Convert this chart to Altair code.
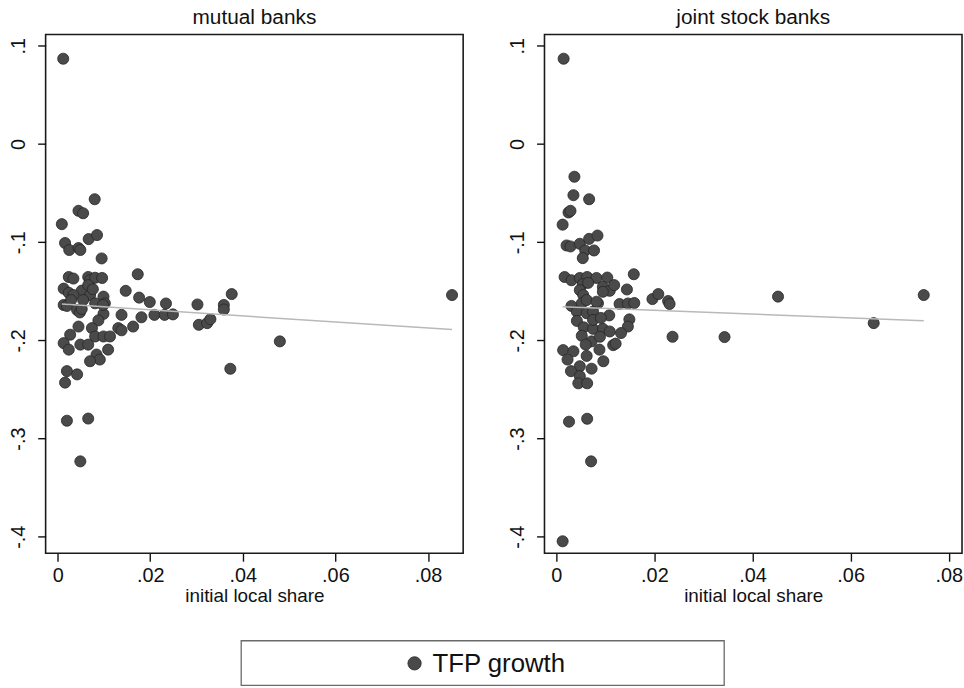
import altair as alt
import pandas as pd

# TFP growth against initial local market share, by bank type
mutual_share = [
    0.0012, 0.0080, 0.0045, 0.0055, 0.0009, 0.0016, 0.0025, 0.0045, 0.0049, 0.0067,
    0.0085, 0.0095, 0.0173, 0.0024, 0.0034, 0.0066, 0.0070, 0.0081, 0.0096, 0.0013,
    0.0024, 0.0052, 0.0066, 0.0070, 0.0099, 0.0147, 0.0176, 0.0199, 0.0234, 0.0302,
    0.0359, 0.0376, 0.0852, 0.0359, 0.0013, 0.0020, 0.0042, 0.0048, 0.0052, 0.0081,
    0.0102, 0.0099, 0.0138, 0.0181, 0.0209, 0.0231, 0.0249, 0.0088, 0.0163, 0.0045,
    0.0027, 0.0013, 0.0024, 0.0074, 0.0081, 0.0099, 0.0113, 0.0131, 0.0138, 0.0049,
    0.0066, 0.0109, 0.0084, 0.0091, 0.0070, 0.0020, 0.0042, 0.0016, 0.0020, 0.0066,
    0.0049, 0.0305, 0.0323, 0.0330, 0.0480, 0.0373, 0.0034, 0.0055, 0.0029, 0.0076,
    0.0098,
]
mutual_tfp = [
    0.0869, -0.0562, -0.0680, -0.0705, -0.0816, -0.1008, -0.1079, -0.1059, -0.1079, -0.0968,
    -0.0927, -0.1165, -0.1326, -0.1354, -0.1370, -0.1354, -0.1387, -0.1362, -0.1364, -0.1473,
    -0.1515, -0.1493, -0.1437, -0.1538, -0.1554, -0.1495, -0.1564, -0.1609, -0.1624, -0.1634,
    -0.1639, -0.1528, -0.1538, -0.1685, -0.1639, -0.1649, -0.1690, -0.1715, -0.1680, -0.1622,
    -0.1622, -0.1730, -0.1740, -0.1764, -0.1740, -0.1740, -0.1735, -0.1796, -0.1859, -0.1859,
    -0.1942, -0.2028, -0.2094, -0.1875, -0.1960, -0.1960, -0.1960, -0.1875, -0.1897, -0.2043,
    -0.2043, -0.2094, -0.2144, -0.2195, -0.2212, -0.2313, -0.2346, -0.2430, -0.2818, -0.2796,
    -0.3232, -0.1841, -0.1824, -0.1784, -0.2010, -0.2289, -0.1538, -0.1589, -0.1589, -0.1478,
    -0.1639,
]
joint_share = [
    0.0015, 0.0037, 0.0035, 0.0067, 0.0025, 0.0029, 0.0013, 0.0021, 0.0029, 0.0048,
    0.0067, 0.0084, 0.0059, 0.0077, 0.0054, 0.0158, 0.0017, 0.0031, 0.0048, 0.0063,
    0.0082, 0.0104, 0.0054, 0.0065, 0.0048, 0.0055, 0.0095, 0.0109, 0.0118, 0.0144,
    0.0196, 0.0208, 0.0228, 0.0231, 0.0452, 0.0749, 0.0647, 0.0237, 0.0343, 0.0031,
    0.0052, 0.0062, 0.0095, 0.0042, 0.0062, 0.0075, 0.0085, 0.0129, 0.0146, 0.0159,
    0.0082, 0.0042, 0.0108, 0.0149, 0.0146, 0.0132, 0.0056, 0.0075, 0.0095, 0.0109,
    0.0052, 0.0072, 0.0089, 0.0116, 0.0121, 0.0060, 0.0062, 0.0014, 0.0035, 0.0023,
    0.0088, 0.0096, 0.0072, 0.0048, 0.0030, 0.0048, 0.0045, 0.0063, 0.0026, 0.0063,
    0.0071, 0.0013, 0.0075, 0.0091,
]
joint_tfp = [
    0.0869, -0.0333, -0.0521, -0.0562, -0.0697, -0.0680, -0.0821, -0.1033, -0.1043, -0.1016,
    -0.0966, -0.0932, -0.1084, -0.1084, -0.1162, -0.1326, -0.1354, -0.1387, -0.1364, -0.1354,
    -0.1364, -0.1360, -0.1427, -0.1414, -0.1488, -0.1538, -0.1455, -0.1495, -0.1437, -0.1481,
    -0.1579, -0.1528, -0.1599, -0.1629, -0.1554, -0.1538, -0.1824, -0.1963, -0.1966, -0.1649,
    -0.1622, -0.1589, -0.1505, -0.1707, -0.1723, -0.1707, -0.1622, -0.1629, -0.1624, -0.1619,
    -0.1606, -0.1801, -0.1745, -0.1786, -0.1859, -0.1925, -0.1867, -0.1882, -0.1882, -0.1909,
    -0.1953, -0.2010, -0.1963, -0.2048, -0.2033, -0.2043, -0.2158, -0.2099, -0.2111, -0.2195,
    -0.2094, -0.2212, -0.2288, -0.2263, -0.2313, -0.2364, -0.2437, -0.2437, -0.2828, -0.2798,
    -0.3232, -0.4046, -0.1791, -0.1771,
]

# Linear fit endpoints for each panel
mutual_fit_share = [0.0009, 0.0852]
mutual_fit_tfp = [-0.1630, -0.1890]
joint_fit_share = [0.0013, 0.0749]
joint_fit_tfp = [-0.1657, -0.1800]

x_ticks = [0, 0.02, 0.04, 0.06, 0.08]
y_ticks = [-0.4, -0.3, -0.2, -0.1, 0, 0.1]
panel_titles = ["mutual banks", "joint stock banks"]
legend_labels = ["TFP growth"]

FONT = "Liberation Sans"
INK = "#111111"
DOT_FILL = "#4a4a4a"
DOT_EDGE = "#262626"
Y_DOMAIN = [-0.4168, 0.1115]

# Stata-style number labels: ".02", "-.1", "0"
LABEL_EXPR = (
    "replace(replace(format(datum.value, '.2~f'), '\u2212', '-'), '0.', '.')"
)


def panel(title, share, tfp, fit_share, fit_tfp, x_domain):
    pts = pd.DataFrame({"share": share, "tfp": tfp})
    fit = pd.DataFrame({"share": fit_share, "tfp": fit_tfp})
    x = alt.X(
        "share:Q",
        scale=alt.Scale(domain=x_domain, nice=False, zero=False),
        axis=alt.Axis(
            values=x_ticks,
            title="initial local share",
            labelExpr=LABEL_EXPR,
            labelPadding=4,
            titlePadding=2,
        ),
    )
    y = alt.Y(
        "tfp:Q",
        scale=alt.Scale(domain=Y_DOMAIN, nice=False, zero=False),
        axis=alt.Axis(
            values=y_ticks,
            title=None,
            labelExpr=LABEL_EXPR,
            labelAngle=-90,
            labelAlign="center",
            labelBaseline="bottom",
            labelPadding=9,
        ),
    )
    dots = alt.Chart(pts).mark_circle(
        size=125, color=DOT_FILL, stroke=DOT_EDGE, strokeWidth=0.8, opacity=1
    ).encode(x=x, y=y)
    line = alt.Chart(fit).mark_line(color="#b9b9b9", strokeWidth=1.5).encode(x=x, y=y)
    return alt.layer(dots, line).properties(
        width=421,
        height=523,
        title=alt.TitleParams(
            title, fontSize=21, font=FONT, fontWeight="normal", color=INK, offset=7
        ),
    )


left = panel(panel_titles[0], mutual_share, mutual_tfp,
             mutual_fit_share, mutual_fit_tfp, [-0.0026, 0.0876])
right = panel(panel_titles[1], joint_share, joint_tfp,
              joint_fit_share, joint_fit_tfp, [-0.0024, 0.0827])

# Legend box below the panels, pushed right by an empty spacer view
leg = pd.DataFrame({"label": legend_labels})
spacer = alt.Chart(leg).mark_point(opacity=0, size=1).encode(
    x=alt.value(2), y=alt.value(2)
).properties(width=196, height=45, view=alt.ViewBackground(strokeOpacity=0))
key = alt.Chart(leg).mark_circle(
    size=180, color=DOT_FILL, stroke=DOT_EDGE, strokeWidth=0.8, opacity=1
).encode(x=alt.value(175), y=alt.value(23))
key_text = alt.Chart(leg).mark_text(
    align="left", baseline="middle", fontSize=26, font=FONT, color=INK
).encode(x=alt.value(193), y=alt.value(24), text="label:N")
legend_box = alt.layer(key, key_text).properties(
    width=487,
    height=45,
    view=alt.ViewBackground(stroke="#6a6a6a", strokeWidth=1.3),
)

chart = (
    alt.vconcat(
        alt.hconcat(left, right, spacing=43),
        alt.hconcat(spacer, legend_box, spacing=0),
        spacing=33,
    )
    .properties(padding={"left": 8, "top": 3, "right": 0, "bottom": 0}, background="white")
    .configure_view(stroke="#1a1a1a", strokeWidth=1.6)
    .configure_axis(
        domain=False,
        grid=False,
        tickColor=INK,
        tickWidth=1.4,
        tickSize=8,
        labelFont=FONT,
        labelFontSize=20,
        labelColor=INK,
        titleFont=FONT,
        titleFontSize=19,
        titleFontWeight="normal",
        titleColor=INK,
    )
)

chart.save("out.html", embed_options={"renderer": "svg", "actions": False})
